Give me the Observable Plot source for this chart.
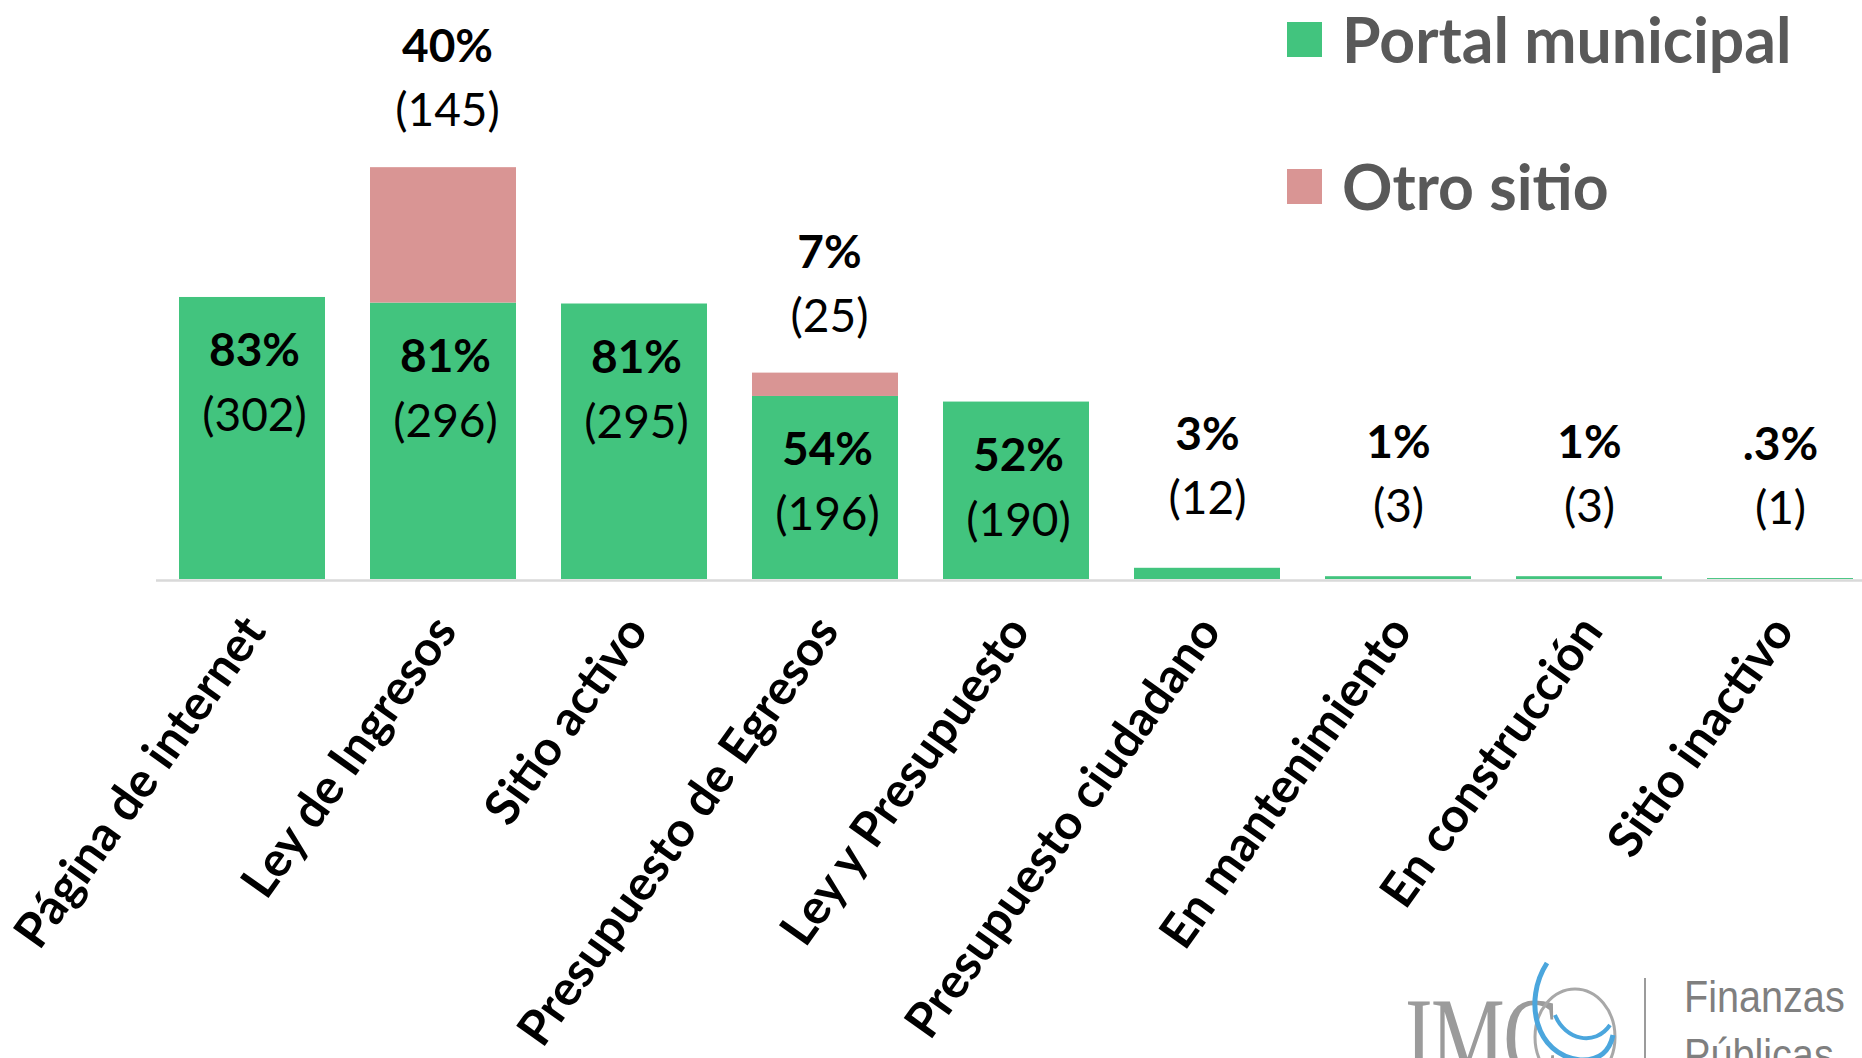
<!DOCTYPE html>
<html>
<head>
<meta charset="utf-8">
<script src="https://cdn.jsdelivr.net/npm/d3@7"></script>
<script src="https://cdn.jsdelivr.net/npm/@observablehq/plot@0.6"></script>
<style>
  html, body { margin: 0; padding: 0; background: #ffffff; }
  #wrap { position: relative; width: 1862px; height: 1058px; overflow: hidden; font-family: Lato, "Open Sans", sans-serif; }
  #chart { position: absolute; left: 0; top: 0; }
  #legend { position: absolute; left: 1287px; top: 0; }
  .lg-row { position: absolute; left: 0; display: flex; align-items: center; white-space: nowrap; }
  .lg-sw { width: 35px; height: 35px; margin-right: 20px; flex: none; }
  .lg-tx { font-family: Lato, sans-serif; font-weight: 700; font-size: 62.5px; color: #595959; line-height: 1; }
  #logo { position: absolute; left: 1395px; top: 955px; width: 470px; height: 110px; }
</style>
</head>
<body>
<div id="wrap">
  <div id="chart"></div>
  <div id="legend"></div>
  <div id="logo">
    <div style="position:absolute;left:10px;top:26px;font-family:'Liberation Serif',serif;font-size:112px;line-height:1;color:#9b9b9b;transform:scaleX(0.74);transform-origin:left top;letter-spacing:-2px;">IMC</div>
    <svg style="position:absolute;left:0;top:0;" width="470" height="110">
      <ellipse cx="180" cy="82" rx="40" ry="48" fill="none" stroke="#a8a8a8" stroke-width="3"></ellipse>
      <path d="M152 8 C 128 45, 140 100, 185 105 C 205 106, 215 95, 218 80" fill="none" stroke="#4ba6dd" stroke-width="5"></path>
      <path d="M160 60 C 170 85, 200 92, 215 70" fill="none" stroke="#4ba6dd" stroke-width="4"></path>
      <line x1="250" y1="23" x2="250" y2="110" stroke="#9b9b9b" stroke-width="2"></line>
    </svg>
    <div style="position:absolute;left:289px;top:20px;font-family:'Liberation Sans',Arial,sans-serif;font-size:44px;line-height:1;color:#7f7f7f;transform:scaleX(0.9);transform-origin:left top;">Finanzas</div>
    <div style="position:absolute;left:289px;top:78px;font-family:'Liberation Sans',Arial,sans-serif;font-size:44px;line-height:1;color:#7f7f7f;transform:scaleX(0.9);transform-origin:left top;">Públicas</div>
  </div>
</div>
<script>
// ---- data ----
const categories = ["Página de internet", "Ley de Ingresos", "Sitio activo", "Presupuesto de Egresos", "Ley y Presupuesto", "Presupuesto ciudadano", "En mantenimiento", "En construcción", "Sitio inactivo"];
const series = ["Portal municipal", "Otro sitio"];
const colors = ["#42C47E", "#D99594"];
const portalCount = [302, 296, 295, 196, 190, 12, 3, 3, 1];
const portalPct = ["83%", "81%", "81%", "54%", "52%", "3%", "1%", "1%", ".3%"];
const otroCount = [0, 145, 0, 25, 0, 0, 0, 0, 0];
const otroPct = [null, "40%", null, "7%", null, null, null, null, null];
const insideCount = 5; // first five bars carry their labels inside

// ---- tables built from the arrays ----
const rows = [];
categories.forEach((c, i) => {
  rows.push({category: c, series: series[0], value: portalCount[i]});
  rows.push({category: c, series: series[1], value: otroCount[i]});
});
const portalLabels = categories.map((c, i) => ({category: c, value: portalCount[i], pct: portalPct[i], n: `(${portalCount[i]})`, inside: i < insideCount}));
const inLabels = portalLabels.filter(d => d.inside);
const outLabels = portalLabels.filter(d => !d.inside);
const otroLabels = categories.map((c, i) => ({category: c, top: portalCount[i] + otroCount[i], pct: otroPct[i], n: `(${otroCount[i]})`})).filter(d => d.pct);

const chart = Plot.plot({
  width: 1862,
  height: 1058,
  marginTop: 0,
  marginBottom: 479,
  marginLeft: 156,
  marginRight: 0,
  style: {fontFamily: "Lato, sans-serif", background: "transparent", color: "#000", overflow: "visible"},
  x: {type: "band", domain: categories, range: [155.5, 1876.5], paddingInner: 0.2356, paddingOuter: 0.1178, axis: null},
  y: {domain: [0, 620], axis: null},
  color: {domain: series, range: colors},
  marks: [
    Plot.barY(rows, {x: "category", y: "value", fill: "series"}),
    Plot.ruleY([0], {stroke: "#D9D9D9", strokeWidth: 2.5, dy: 1}),
    // labels inside tall bars
    Plot.text(inLabels, {x: "category", y: "value", text: "pct", dy: 54, dx: 2, fontSize: 46, fontWeight: "bold", fill: "#000", lineAnchor: "middle"}),
    Plot.text(inLabels, {x: "category", y: "value", text: "n", dy: 119, dx: 2, fontSize: 46, fill: "#000", lineAnchor: "middle"}),
    // labels above short bars
    Plot.text(outLabels, {x: "category", y: "value", text: "pct", dy: -133, fontSize: 46, fontWeight: "bold", fill: "#000", lineAnchor: "middle"}),
    Plot.text(outLabels, {x: "category", y: "value", text: "n", dy: -69, fontSize: 46, fill: "#000", lineAnchor: "middle"}),
    // labels above the "Otro sitio" segments
    Plot.text(otroLabels, {x: "category", y: "top", text: "pct", dy: -120, dx: 4, fontSize: 46, fontWeight: "bold", fill: "#000", lineAnchor: "middle"}),
    Plot.text(otroLabels, {x: "category", y: "top", text: "n", dy: -56, dx: 4, fontSize: 46, fill: "#000", lineAnchor: "middle"}),
    Plot.axisX({tickSize: 0, tickPadding: 52, tickRotate: -54.5, textAnchor: "end", lineAnchor: "bottom", dx: 15, fontSize: 48.5, fontWeight: "bold", fill: "#000", label: null})
  ]
});
document.getElementById("chart").appendChild(chart);

// ---- legend (HTML overlay, from the series arrays) ----
const legend = document.getElementById("legend");
const legendTops = [8, 155];
series.forEach((s, i) => {
  const row = document.createElement("div");
  row.className = "lg-row";
  row.style.top = legendTops[i] + "px";
  const sw = document.createElement("span");
  sw.className = "lg-sw";
  sw.style.background = colors[i];
  const tx = document.createElement("span");
  tx.className = "lg-tx";
  tx.textContent = s;
  row.appendChild(sw);
  row.appendChild(tx);
  legend.appendChild(row);
});
</script>
</body>
</html>
